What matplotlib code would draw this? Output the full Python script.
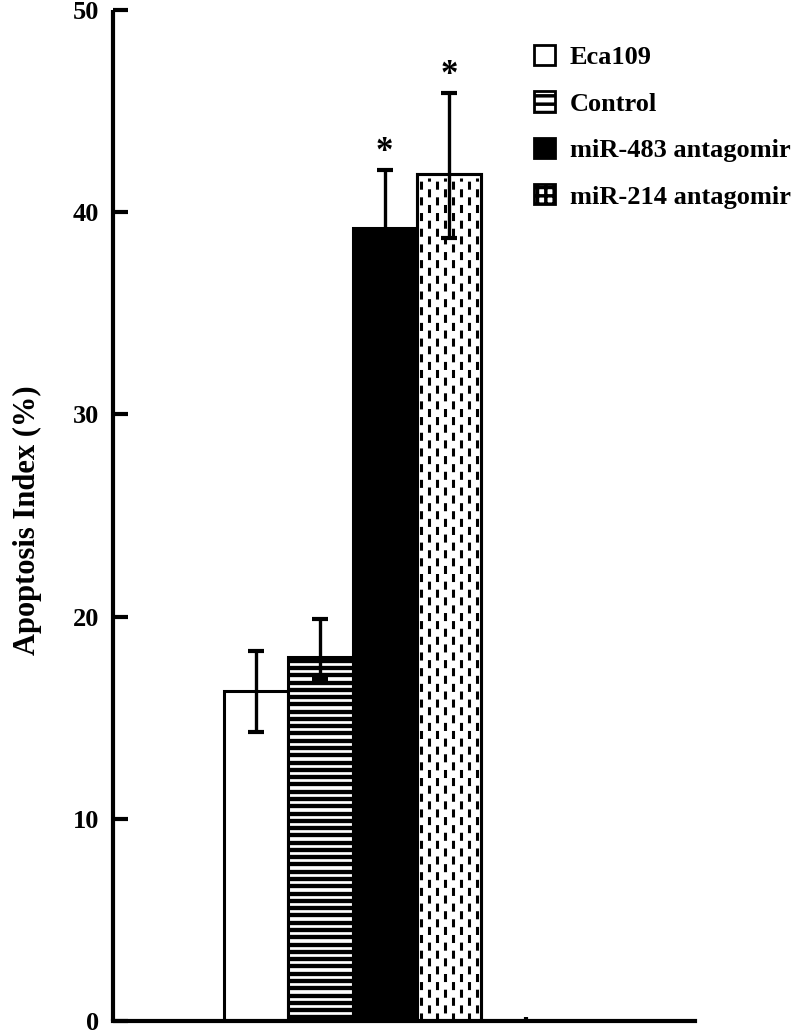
import numpy as np
import matplotlib
matplotlib.use("Agg")
import matplotlib.pyplot as plt
from matplotlib.patches import Patch

# ============================================================
# ДАННЫЕ
# ============================================================
groups = ["Eca109", "Control", "miR-483 antagomir", "miR-214 antagomir"]
apoptosis = [16.3, 18.0, 39.2, 41.9]      # Apoptosis Index (%)
err_low = [2.0, 1.1, 2.9, 3.2]
err_high = [2.0, 1.9, 2.9, 4.0]
significant = [False, False, True, True]   # звездочки над столбцами
yticks = [0, 10, 20, 30, 40, 50]

plt.rcParams['font.family'] = ['Liberation Serif', 'DejaVu Serif']
plt.rcParams['font.weight'] = 'bold'
plt.rcParams['hatch.linewidth'] = 2.5
plt.rcParams['lines.scale_dashes'] = False

fig = plt.figure(figsize=(7.92, 10.32), dpi=100)
ax = fig.add_axes([113 / 792, 1 - 1021 / 1032, 582 / 792, 1011 / 1032])

x = np.arange(len(groups))
w = 1.0
bars = ax.bar(x, apoptosis, width=w, color=['white', 'white', 'black', 'white'],
              edgecolor='black', linewidth=2.2, zorder=2)

# горизонтальные полосы у Control
step = 0.36
ys = np.arange(step / 2, apoptosis[1] - 0.1, step)
ax.hlines(ys, x[1] - w / 2, x[1] + w / 2, color='black', linewidth=3.1, zorder=3)

# штриховка у miR-214 (вертикальные пунктиры)
ncol = 8
for k in range(ncol):
    xc = x[3] - w / 2 + (k + 0.5) * w / ncol
    off = 0 if k % 2 == 0 else 5.5
    ax.plot([xc, xc], [0, apoptosis[3] - 0.2], color='black', linewidth=2.2,
            linestyle=(off, (5.8, 5.5)), solid_capstyle='butt', zorder=3)
# рамку рисуем поверх
ax.bar(x[3], apoptosis[3], width=w, fill=False, edgecolor='black', linewidth=2.2, zorder=4)

ax.errorbar(x, apoptosis, yerr=[err_low, err_high], fmt='none', ecolor='black',
            elinewidth=2.4, capsize=5.5, capthick=3, zorder=5)

for i in range(len(groups)):
    if significant[i]:
        ax.annotate('*', xy=(x[i], apoptosis[i] + err_high[i]), xytext=(0, 0.5),
                    textcoords='offset points', ha='center', va='bottom',
                    fontsize=25, fontweight='bold')

ax.set_ylim(0, 50)
ax.set_xlim(-2.23, 6.83)
ax.set_yticks(yticks)
ax.set_xticks([4.2])
ax.set_xticklabels([''])
ax.tick_params(axis='y', direction='in', length=11, width=3, labelsize=19, pad=10)
ax.tick_params(axis='x', direction='in', length=3, width=3)
for lab in ax.get_yticklabels():
    lab.set_fontweight('bold')

for s in ['top', 'right']:
    ax.spines[s].set_visible(False)
for s in ['left', 'bottom']:
    ax.spines[s].set_linewidth(3)
ax.spines['left'].set_capstyle('butt')

fig.text(27 / 792, 1 - 520 / 1032, "Apoptosis Index (%)", rotation=90,
         ha='center', va='center', fontsize=22, fontweight='bold')

handles = [
    Patch(facecolor='white', edgecolor='black', linewidth=2),
    Patch(facecolor='white', edgecolor='black', linewidth=2, hatch='--'),
    Patch(facecolor='black', edgecolor='black', linewidth=2),
    Patch(facecolor='white', edgecolor='black', linewidth=2, hatch='++'),
]
ax.legend(handles, groups, loc='upper left', bbox_to_anchor=(534 / 792, 1 - 45 / 1032),
          bbox_transform=fig.transFigure, frameon=False, borderpad=0, borderaxespad=0,
          handlelength=0.8, handleheight=0.8, handletextpad=0.55, labelspacing=0.84,
          prop={'size': 19, 'weight': 'bold'})

fig.savefig("out.png", dpi=100)
